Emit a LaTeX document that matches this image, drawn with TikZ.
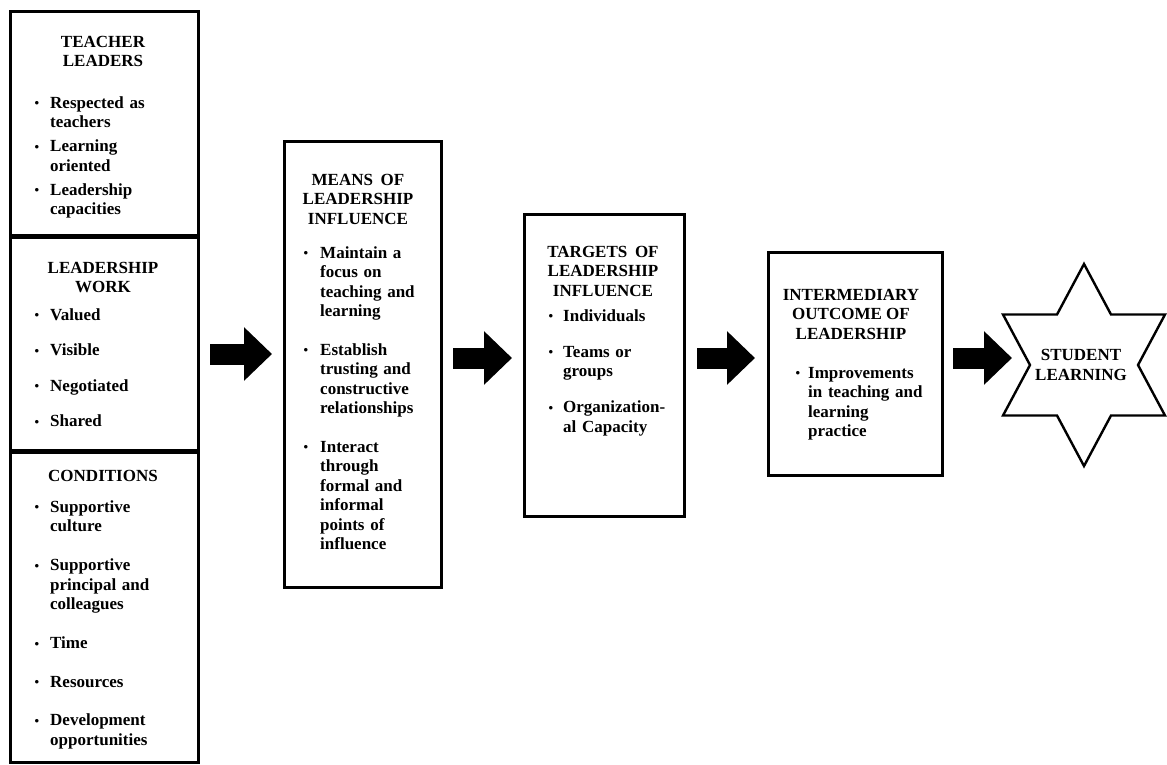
\documentclass[tikz,border=0pt]{standalone}
\usepackage{fontspec}
\setmainfont{Liberation Serif}
\usetikzlibrary{calc,arrows.meta}
\newcommand{\fs}{\fontsize{17}{19.5}\selectfont\bfseries}
\newcommand{\bul}{\raisebox{0.3pt}{\fontsize{13}{13}\selectfont\textbullet}}
% first item: no \par, sets the gap used before the following items
\newcommand{\bfirst}[2][11pt]{\noindent\llap{\bul\hspace{#1}}\strut\setlength{\parskip}{#2}\ignorespaces}
\newcommand{\bi}[1][11pt]{\par\noindent\llap{\bul\hspace{#1}}\strut\ignorespaces}
\begin{document}
\begin{tikzpicture}[x=1pt,y=-1pt,
  box/.style={draw, line width=2.6pt, inner sep=0pt, anchor=north west},
  hd/.style={inner sep=0pt, anchor=north, align=center, font=\fs, yshift=13.65pt},
  bl/.style={inner sep=0pt, anchor=north west, text width=170pt, align=left, font=\fs, yshift=13.65pt},
  barrow/.style={line width=21pt, -{Triangle[length=28pt,width=52pt]}},
  starline/.style={draw, line width=2.4pt, line join=miter}
]
\useasboundingbox (0,0) rectangle (1167,764);

% left column
\node[box, minimum width=188pt, minimum height=224pt] (tl) at (9,10) {};
\node[box, minimum width=188pt, minimum height=213pt] (lw) at (9,236) {};
\node[box, minimum width=188pt, minimum height=310pt] (cd) at (9,451) {};

\node[hd] (tlh) at (103,47) {\strut TEACHER\\LEADERS};
\node[bl] (tlb) at (50,108) {%
\bfirst{4.5pt}Respected as\\teachers
\bi Learning\\oriented
\bi Leadership\\capacities};

\node[hd] (lwh) at (103,273) {\strut LEADERSHIP\\WORK};
\node[bl] (lwb) at (50,320) {%
\bfirst{16pt}Valued
\bi Visible
\bi Negotiated
\bi Shared};

\node[hd] (cdh) at (103,481) {\strut CONDITIONS};
\node[bl] (cdb) at (50,512) {%
\bfirst{19.3pt}Supportive\\culture
\bi Supportive\\principal and\\colleagues
\bi Time
\bi Resources
\bi Development\\opportunities};

% means
\node[box, minimum width=157pt, minimum height=446pt] (means) at (283,140) {};
\node[hd] (meansh) at (358,185) {\strut MEANS\hspace{0.45em}OF\\LEADERSHIP\\INFLUENCE};
\node[bl] (meansb) at (320,258) {%
\bfirst[12pt]{19pt}Maintain a\\focus on\\teaching and\\learning
\bi[12pt] Establish\\trusting and\\constructive\\relationships
\bi[12pt] Interact\\through\\formal and\\informal\\points of\\influence};

% targets
\node[box, minimum width=160pt, minimum height=302pt] (targets) at (523,213) {};
\node[hd] (targetsh) at (603,257) {\strut TARGETS\hspace{0.45em}OF\\LEADERSHIP\\INFLUENCE};
\node[bl] (targetsb) at (563,321) {%
\bfirst[10pt]{16.5pt}Individuals
\bi[10pt] Teams or\\groups
\bi[10pt] Organization-\\al Capacity};

% intermediary
\node[box, minimum width=174pt, minimum height=223pt] (inter) at (767,251) {};
\node[hd] (interh) at (851,300) {\strut INTERMEDIARY\\OUTCOME OF\\LEADERSHIP};
\node[bl] (interb) at (808,378) {%
\bfirst[8pt]{0pt}Improvements\\in teaching and\\learning\\practice};

% star
\coordinate (sc) at (1084,365);
\begin{scope}[shift={(sc)}]
\draw[starline] (0,-101) -- (27,-50.5) -- (81,-50.5) -- (54,0) -- (81,50.5) -- (27,50.5)
  -- (0,101) -- (-27,50.5) -- (-81,50.5) -- (-54,0) -- (-81,-50.5) -- (-27,-50.5) -- cycle;
\end{scope}
\node[inner sep=0pt, align=center, font=\fs] (student) at ($(sc)+(-3,0)$) {STUDENT\\LEARNING};

% arrows
\coordinate (a1) at (210,354);
\coordinate (a2) at (453,358);
\coordinate (a3) at (697,358);
\coordinate (a4) at (953,358);
\draw[barrow] (a1) -- ($(a1 -| means.west)+(-11,0)$);
\draw[barrow] (a2) -- ($(a2 -| targets.west)+(-11,0)$);
\draw[barrow] (a3) -- ($(a3 -| inter.west)+(-12,0)$);
\draw[barrow] (a4) -- ($(a4 -| sc)+(-72,0)$);
\end{tikzpicture}
\end{document}
